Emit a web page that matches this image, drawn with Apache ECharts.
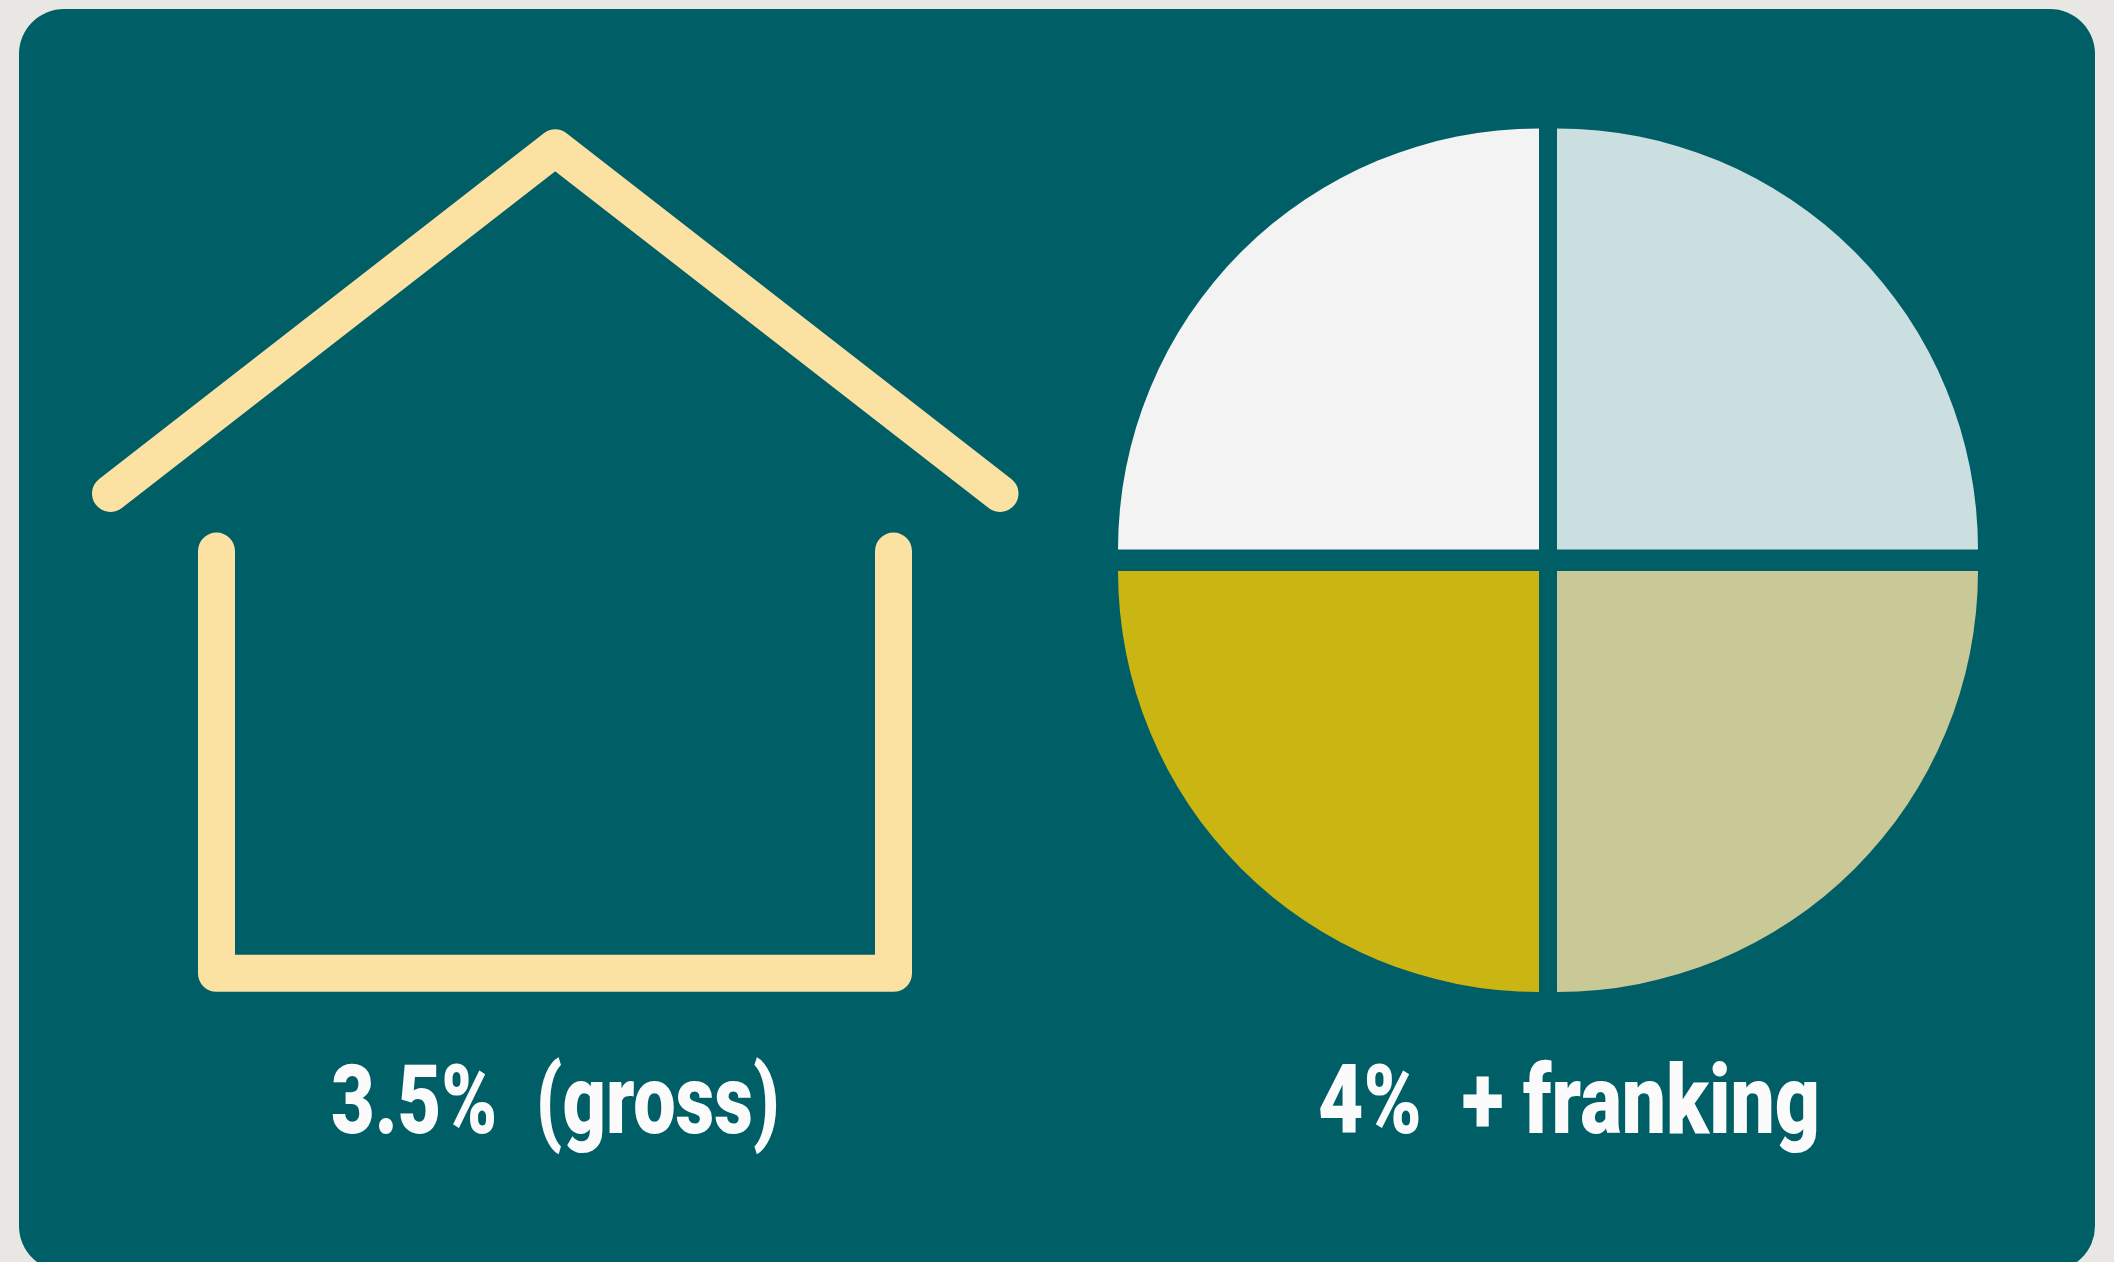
<!DOCTYPE html>
<html>
<head>
<meta charset="utf-8">
<title>3.5% (gross) vs 4% + franking</title>
<script src="https://cdn.jsdelivr.net/npm/echarts@6/dist/echarts.min.js"></script>
<style>
html,body{margin:0;padding:0;background:#e9e7e3;}
#chart{width:2114px;height:1262px;}
</style>
</head>
<body>
<div id="chart"></div>
<script>
// Captions under each graphic; the wide spaces open up the word gaps
const captions = ['3.5%\u2002(gross)', '4%\u2002+ franking'];

// House outline, in the units of the hidden layout axes
const roofX = [110.5, 555.2, 1000];
const roofY = [493.5, 147.8, 493.5];
const wallsX = [216.5, 216.5, 893.5, 893.5];
const wallsY = [551, 973.3, 973.3, 551];

// Four equal shares of the pie, clockwise from the top right
const shares = [25, 25, 25, 25];
const shareColors = ['#cbdfe0', '#c9c897', '#cbb512', '#f3f3f3'];
const shareStart = [90, 0, 270, 180];
const shareCentres = [[1557, 549.5], [1557, 571], [1539, 571], [1539, 549.5]];
const pieRadius = 421;

const TEAL = '#005f66';
const CREAM = '#fbe2a2';
const total = shares.reduce((a, b) => a + b, 0);

function outline(xs, ys) {
  return {
    type: 'line',
    data: xs.map((x, i) => [x, ys[i]]),
    symbol: 'none',
    silent: true,
    animation: false,
    lineStyle: { color: CREAM, width: 37, cap: 'round', join: 'round' },
    z: 3
  };
}

const wedges = shares.map((v, i) => ({
  type: 'pie',
  center: shareCentres[i],
  radius: [0, pieRadius],
  startAngle: shareStart[i],
  clockwise: true,
  silent: true,
  animation: false,
  label: { show: false },
  labelLine: { show: false },
  data: [
    { value: v, itemStyle: { color: shareColors[i] } },
    { value: total - v, itemStyle: { color: 'rgba(0,0,0,0)' } }
  ],
  z: 3
}));

function caption(text, x, sx) {
  return {
    type: 'text',
    x: x, y: 1157,
    scaleX: sx,
    z: 10,
    silent: true,
    style: {
      text: text,
      fill: '#fbfbfb',
      font: '900 96px Roboto, "Liberation Sans", sans-serif',
      textAlign: 'left',
      textVerticalAlign: 'bottom'
    }
  };
}

const chart = echarts.init(document.getElementById('chart'), null, { renderer: 'canvas' });
chart.setOption({
  backgroundColor: '#e9e7e3',
  animation: false,
  grid: { left: 0, top: 0, width: 2114, height: 1262 },
  xAxis: { type: 'value', min: 0, max: 2114, show: false },
  yAxis: { type: 'value', min: 0, max: 1262, inverse: true, show: false },
  graphic: [
    {
      type: 'rect', z: -1, silent: true,
      shape: { x: 19, y: 9, width: 2076, height: 1262, r: 45 },
      style: { fill: TEAL }
    },
    caption(captions[0], 331, 0.786),
    caption(captions[1], 1318, 0.817)
  ],
  series: [outline(roofX, roofY), outline(wallsX, wallsY), ...wedges]
});
</script>
</body>
</html>
